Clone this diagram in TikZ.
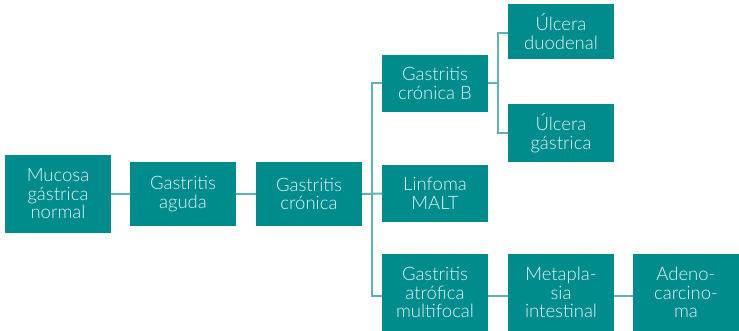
\documentclass[tikz,border=0pt]{standalone}
\usepackage{fontspec}
\setmainfont{Lato Light}
\definecolor{boxteal}{HTML}{008C8C}
\definecolor{linkteal}{HTML}{5FB3B3}
\definecolor{boxtext}{HTML}{E6F4F4}
\begin{document}
\begin{tikzpicture}[x=1pt,y=-1pt,
  stage/.style={fill=boxteal, text=boxtext, draw=none, inner sep=0pt,
    minimum width=106pt, align=center,
    font=\fontsize{18.5}{18.5}\selectfont},
  link/.style={draw=linkteal, line width=2pt}]
\useasboundingbox (0,0) rectangle (739,331);

% main line
\node[stage, minimum height=78pt] (muc) at (58,194) {Mucosa\\gástrica\\normal};
\node[stage, minimum height=64pt] (agu) at (183,194) {Gastritis\\aguda};
\node[stage, minimum height=64pt] (cro) at (309,194) {Gastritis\\crónica};

% branches from chronic gastritis
\node[stage, minimum height=57pt] (crb) at (435,83.5) {Gastritis\\crónica B};
\node[stage, minimum height=57pt] (malt) at (435,193.5) {Linfoma\\MALT};
\node[stage, minimum height=77pt] (atr) at (435,292.5) {Gastritis\\atrófica\\multifocal};

% ulcers
\node[stage, minimum height=55pt] (duo) at (561,31.5) {Úlcera\\duodenal};
\node[stage, minimum height=58pt] (gas) at (561,133) {Úlcera\\gástrica};

% atrophic sequence
\node[stage, minimum height=77pt] (met) at (561,292.5) {Metapla-\\sia\\intestinal};
\node[stage, minimum height=77pt] (ade) at (686,292.5) {Adeno-\\carcino-\\ma};

% junction points
\coordinate (t1) at (372,83.5);
\coordinate (t2) at (372,296);
\coordinate (u1) at (498,33);
\coordinate (u2) at (498,133);

\begin{scope}[on background layer/.try]
\draw[link] (muc.east) -- (agu.west);
\draw[link] (agu.east) -- (cro.west);
\draw[link] (cro.east) -- (malt.west);
\draw[link] (crb.west) -- (t1) -- (t2) -- (atr.west |- t2);
\draw[link] (crb.east) -- (crb.east -| u1);
\draw[link] (duo.west |- u1) -- (u1) -- (u2) -- (gas.west |- u2);
\draw[link] (atr.east |- t2) -- (met.west |- t2);
\draw[link] (met.east |- t2) -- (ade.west |- t2);
\end{scope}
\end{tikzpicture}
\end{document}
